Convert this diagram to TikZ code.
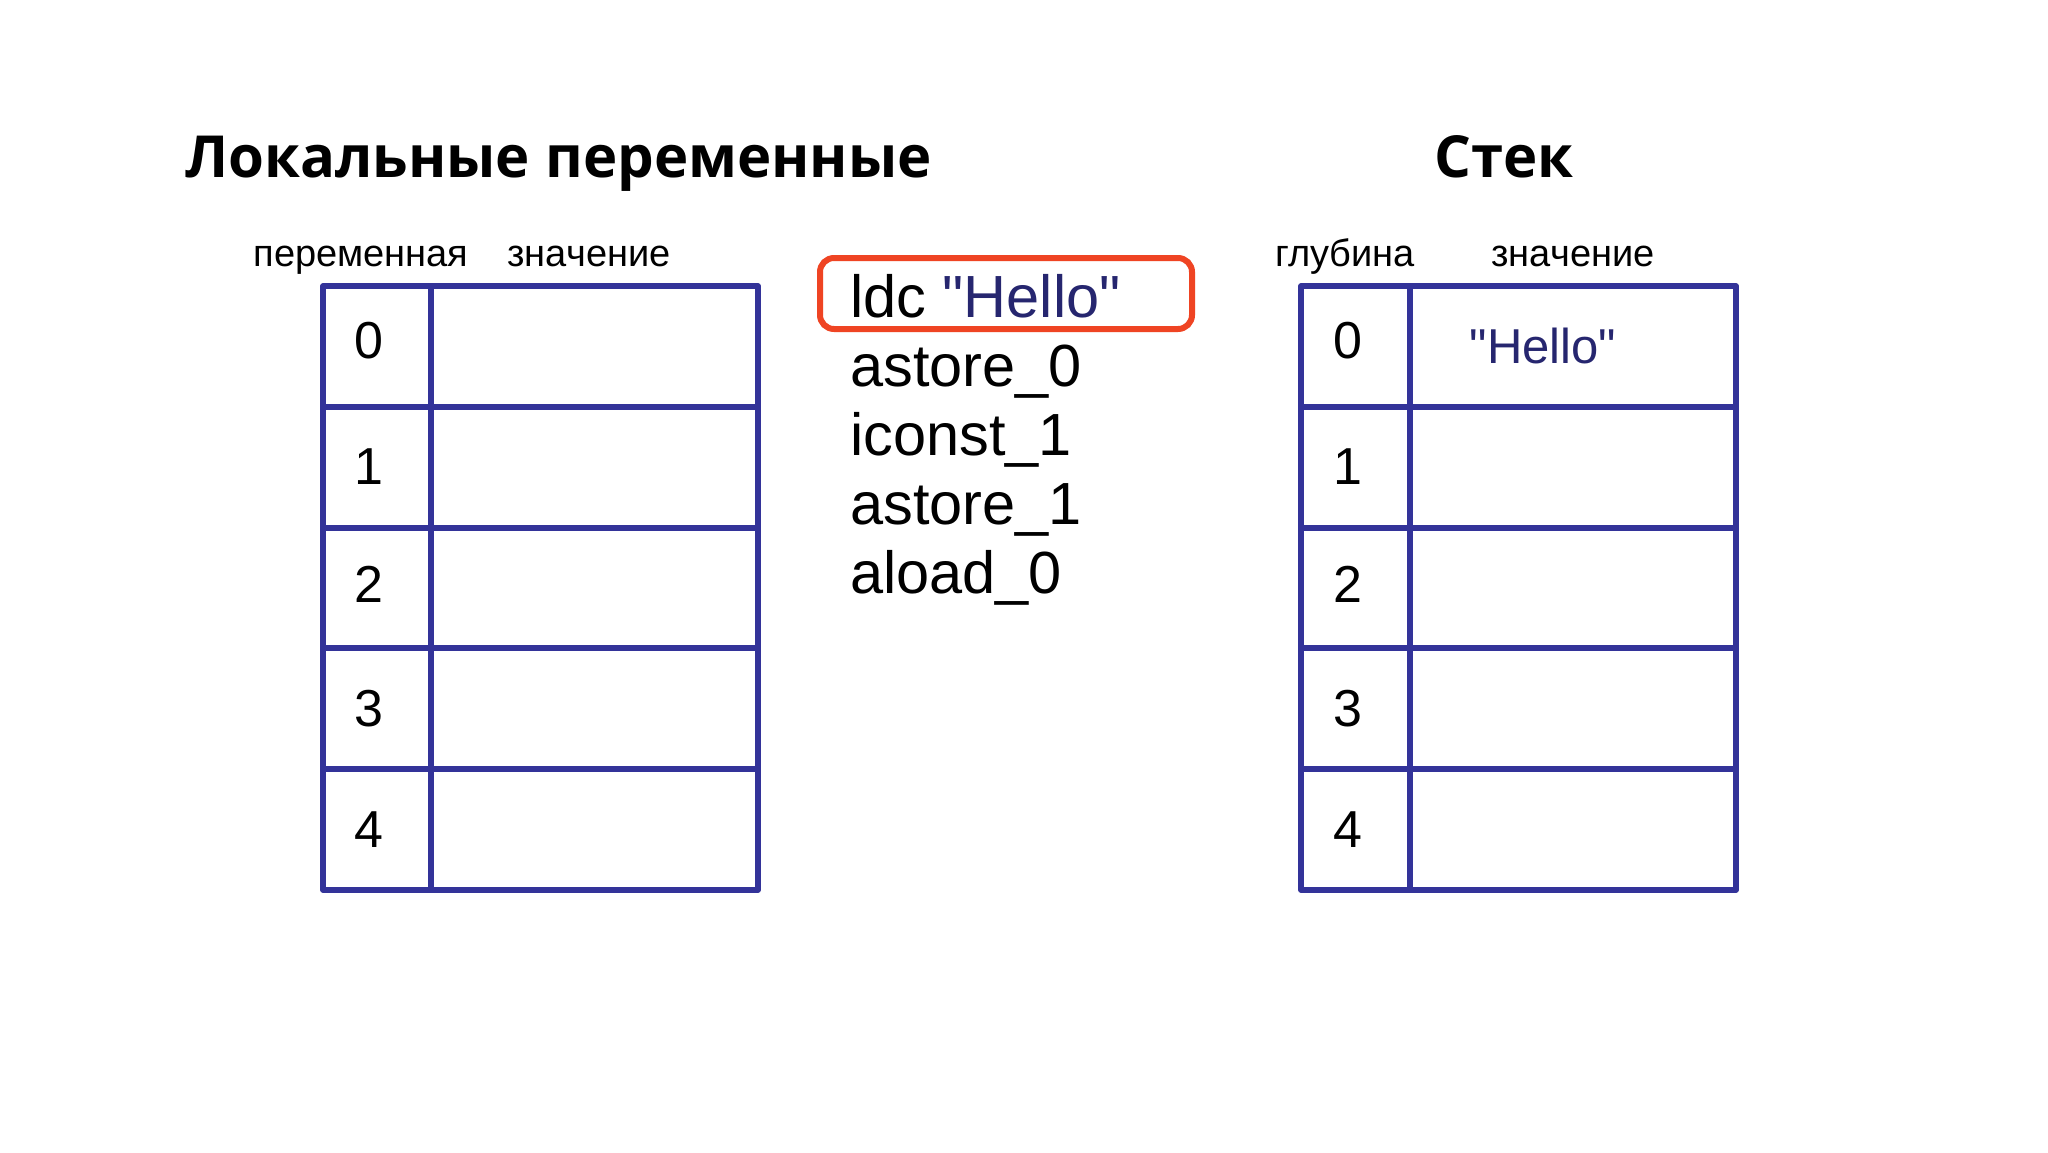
\documentclass[tikz,border=0pt]{standalone}
\usepackage{fontspec}
\setmainfont{Liberation Sans}[Ligatures=TeXOff]
\newfontfamily\titlefont{Open Sans}
\definecolor{tblue}{HTML}{333399}
\definecolor{hello}{HTML}{26266F}
\definecolor{hred}{HTML}{EF4423}
\begin{document}
\begin{tikzpicture}[x=1pt,y=-1pt,
  ttl/.style={font=\titlefont\bfseries\fontsize{58}{58}\selectfont, inner sep=0pt},
  hdr/.style={font=\fontsize{38}{38}\selectfont, anchor=base, inner sep=0pt},
  num/.style={font=\fontsize{52}{52}\selectfont, anchor=base, inner sep=0pt},
  code/.style={font=\fontsize{59.5}{59.5}\selectfont, anchor=base west, inner sep=0pt},
  tbl/.style={draw=tblue, line width=5.5pt, line join=round},
  hbox/.style={draw=hred, line width=6pt, rounded corners=14pt}
]
\useasboundingbox[fill=white] (0,0) rectangle (2048,1152);

% titles
\node[ttl, anchor=base west] (tloc) at (185,177) {Локальные переменные};
\node[ttl, anchor=base] (tstk) at (1504,177) {Стек};

% headers
\node[hdr] (hvar) at (361,266) {переменная};
\node[hdr] (hval) at (589,266) {значение};
\node[hdr] (hdep) at (1345,266) {глубина};
\node[hdr] (hval2) at (1573,266) {значение};

% left table
\draw[tbl] (323,286) rectangle (758,890);
\draw[tbl] (431,286) -- (431,890);
\foreach \y in {407,528,648,769} \draw[tbl] (323,\y) -- (758,\y);

% right table
\draw[tbl] (1301,286) rectangle (1736,890);
\draw[tbl] (1410,286) -- (1410,890);
\foreach \y in {407,528,648,769} \draw[tbl] (1301,\y) -- (1736,\y);

% numbers
\foreach \i/\b in {0/358,1/484,2/602,3/726,4/847}{
  \node[num] (l\i) at (369,\b) {\i};
  \node[num] (r\i) at (1348,\b) {\i};
}

% stack value
\node[font=\fontsize{49}{49}\selectfont, anchor=base, inner sep=0pt, text=hello] (sv) at (1543,363) {"Hello"};

% code
\draw[hbox] (820,258) rectangle (1192,329);
\node[code] (c1) at (850,317) {ldc \textcolor{hello}{"Hello"}};
\node[code] (c2) at (850,386) {astore\_0};
\node[code] (c3) at (850,455) {iconst\_1};
\node[code] (c4) at (850,524) {astore\_1};
\node[code] (c5) at (850,593) {aload\_0};
\end{tikzpicture}
\end{document}
